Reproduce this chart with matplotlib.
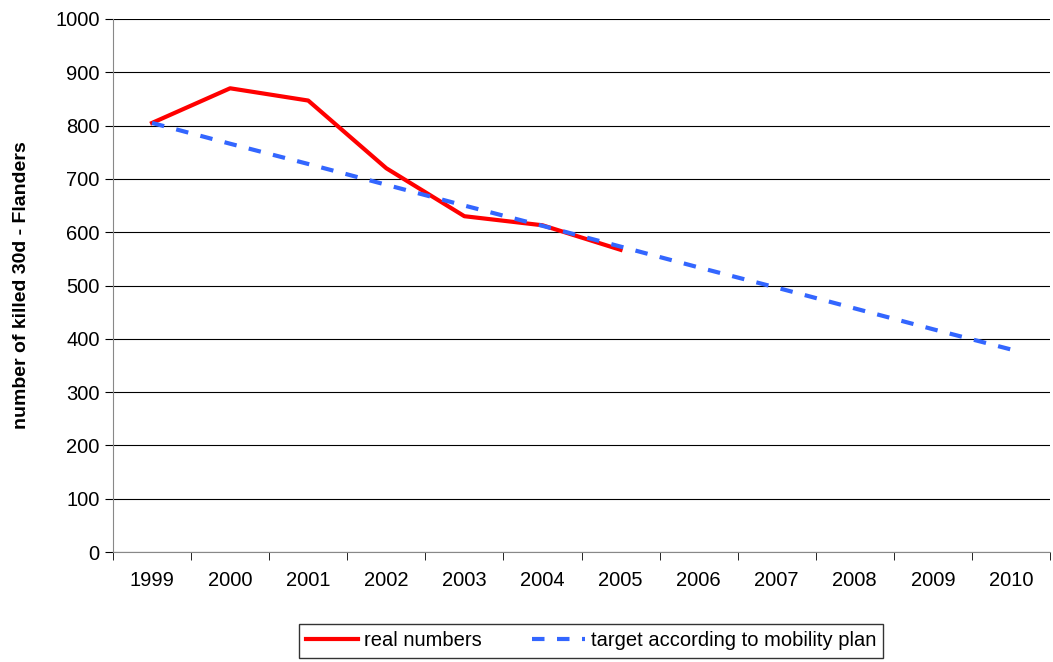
import matplotlib.pyplot as plt
import numpy as np

plt.rcParams['font.family'] = ['Liberation Sans', 'DejaVu Sans']

years = ['1999', '2000', '2001', '2002', '2003', '2004', '2005',
         '2006', '2007', '2008', '2009', '2010']
real = [805, 870, 847, 720, 630, 613, 567]
target = [805, 766, 728, 689, 650, 612, 573, 534, 496, 457, 418, 380]

fig = plt.figure(figsize=(10.53, 6.62), dpi=100)
ax = fig.add_axes([113/1053, 1 - 552/662, (1050-113)/1053, (552-19)/662])

x = np.arange(len(years))
ax.plot(x[:len(real)], real, color='#ff0000', lw=3, label='real numbers')
ax.plot(x, target, color='#3366ff', lw=3, ls=(0, (3, 3)),
        label='target according to mobility plan')

ax.set_xlim(-0.5, len(years) - 0.5)
ax.set_ylim(0, 1000)
ax.set_yticks(range(0, 1001, 100))
ax.set_xticks(x)
ax.set_xticklabels(years)
ax.set_xticks(np.arange(-0.5, len(years), 1), minor=True)
ax.tick_params(axis='x', which='major', length=0, labelsize=14.5, pad=14)
ax.tick_params(axis='x', which='minor', length=6, direction='out')
ax.tick_params(axis='y', labelsize=14.5, length=6)
ax.grid(axis='y', color='black', lw=0.8)
ax.set_axisbelow(True)
for s in ['top', 'right']:
    ax.spines[s].set_visible(False)
ax.spines['left'].set_color('#888888')
ax.spines['bottom'].set_color('#888888')
ax.set_ylabel('number of killed 30d - Flanders', fontsize=14, fontweight='bold', labelpad=18)

fig.legend(loc='center', bbox_to_anchor=(591/1053, 1 - 641/662), ncol=2,
           fontsize=14.5, frameon=True, fancybox=False, edgecolor='black',
           handlelength=2.6, handletextpad=0.3, columnspacing=2.5, borderpad=0.35)

fig.savefig('out.png', dpi=100)
